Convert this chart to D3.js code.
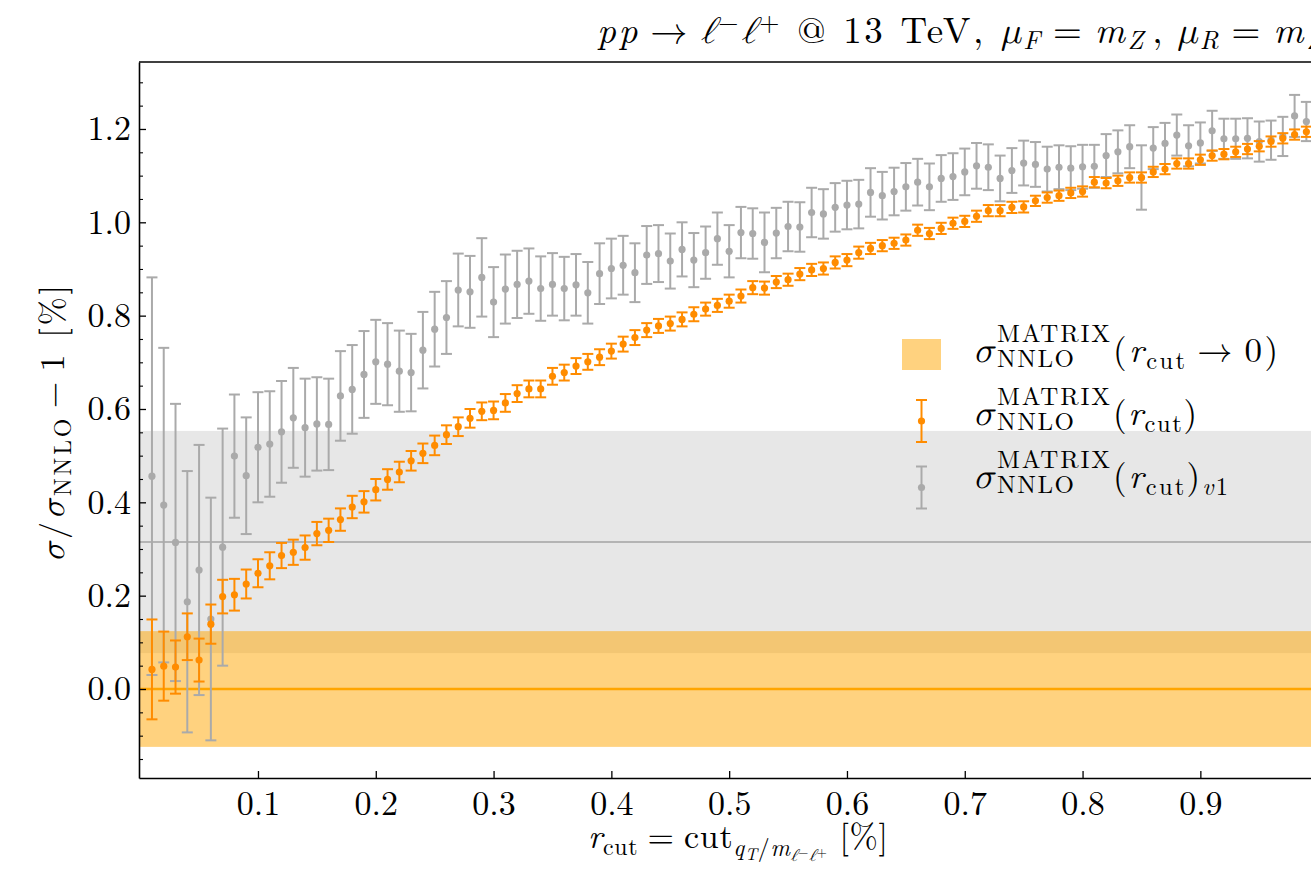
<!DOCTYPE html>
<html>
<head>
<meta charset="utf-8">
<script src="https://cdn.jsdelivr.net/npm/d3@7"></script>
<style>
  body { margin: 0; background: #fff; }
  text { fill: #000; white-space: pre; }
</style>
</head>
<body>
<svg id="chart" width="1311" height="869"></svg>
<script>
// r_cut values [%]
const rcut = [
  0.01,0.02,0.03,0.04,0.05,0.06,0.07,0.08,0.09,0.10,
  0.11,0.12,0.13,0.14,0.15,0.16,0.17,0.18,0.19,0.20,
  0.21,0.22,0.23,0.24,0.25,0.26,0.27,0.28,0.29,0.30,
  0.31,0.32,0.33,0.34,0.35,0.36,0.37,0.38,0.39,0.40,
  0.41,0.42,0.43,0.44,0.45,0.46,0.47,0.48,0.49,0.50,
  0.51,0.52,0.53,0.54,0.55,0.56,0.57,0.58,0.59,0.60,
  0.61,0.62,0.63,0.64,0.65,0.66,0.67,0.68,0.69,0.70,
  0.71,0.72,0.73,0.74,0.75,0.76,0.77,0.78,0.79,0.80,
  0.81,0.82,0.83,0.84,0.85,0.86,0.87,0.88,0.89,0.90,
  0.91,0.92,0.93,0.94,0.95,0.96,0.97,0.98,0.99,1.00
];

// sigma_NNLO^MATRIX(r_cut) relative deviation [%]
const ratioCurrent = [
  0.042,0.049,0.047,0.112,0.062,0.139,0.198,0.202,0.225,0.248,
  0.264,0.286,0.293,0.303,0.333,0.340,0.363,0.390,0.401,0.427,
  0.449,0.465,0.489,0.505,0.522,0.545,0.562,0.580,0.595,0.597,
  0.613,0.633,0.643,0.643,0.670,0.678,0.692,0.701,0.711,0.724,
  0.739,0.753,0.769,0.778,0.783,0.792,0.803,0.814,0.822,0.831,
  0.842,0.860,0.859,0.872,0.877,0.889,0.898,0.901,0.914,0.919,
  0.935,0.944,0.950,0.955,0.962,0.983,0.976,0.987,0.998,1.002,
  1.013,1.025,1.025,1.032,1.033,1.046,1.053,1.057,1.063,1.066,
  1.086,1.084,1.089,1.096,1.096,1.108,1.114,1.126,1.126,1.134,
  1.143,1.146,1.151,1.157,1.163,1.173,1.180,1.188,1.194,1.200
];
const errCurrent = [
  0.107,0.074,0.057,0.050,0.046,0.042,0.036,0.034,0.031,0.030,
  0.029,0.027,0.027,0.026,0.025,0.025,0.024,0.024,0.023,0.023,
  0.022,0.022,0.021,0.021,0.021,0.020,0.020,0.020,0.019,0.019,
  0.019,0.018,0.018,0.018,0.018,0.017,0.017,0.017,0.017,0.016,
  0.016,0.016,0.015,0.015,0.015,0.015,0.015,0.014,0.014,0.014,
  0.014,0.014,0.014,0.013,0.013,0.013,0.013,0.013,0.013,0.013,
  0.013,0.012,0.012,0.012,0.012,0.012,0.012,0.012,0.012,0.012,
  0.012,0.012,0.012,0.012,0.012,0.011,0.011,0.011,0.011,0.011,
  0.011,0.011,0.011,0.011,0.011,0.011,0.011,0.011,0.011,0.011,
  0.011,0.011,0.011,0.011,0.011,0.011,0.011,0.011,0.011,0.011
];

// sigma_NNLO^MATRIX(r_cut)_v1 relative deviation [%]
const ratioV1 = [
  0.456,0.394,0.314,0.187,0.255,0.150,0.304,0.499,0.457,0.518,
  0.525,0.551,0.581,0.560,0.568,0.567,0.628,0.642,0.674,0.701,
  0.696,0.681,0.678,0.726,0.771,0.796,0.855,0.851,0.882,0.829,
  0.857,0.867,0.874,0.858,0.867,0.858,0.866,0.849,0.890,0.901,
  0.908,0.892,0.930,0.933,0.917,0.942,0.919,0.935,0.965,0.938,
  0.978,0.976,0.957,0.977,0.991,0.990,1.021,1.018,1.032,1.037,
  1.039,1.064,1.057,1.066,1.076,1.086,1.076,1.094,1.098,1.108,
  1.121,1.118,1.094,1.111,1.127,1.124,1.114,1.118,1.116,1.119,
  1.120,1.143,1.151,1.162,1.096,1.159,1.169,1.187,1.164,1.170,
  1.196,1.179,1.179,1.180,1.173,1.176,1.184,1.228,1.216,1.225
];
const errV1 = [
  0.426,0.337,0.297,0.280,0.268,0.260,0.254,0.132,0.125,0.118,
  0.113,0.109,0.107,0.105,0.100,0.098,0.096,0.095,0.093,0.090,
  0.088,0.087,0.083,0.082,0.080,0.078,0.078,0.077,0.084,0.075,
  0.074,0.072,0.070,0.069,0.067,0.068,0.066,0.066,0.065,0.064,
  0.063,0.063,0.062,0.061,0.059,0.058,0.058,0.056,0.056,0.056,
  0.055,0.054,0.064,0.054,0.053,0.053,0.053,0.053,0.052,0.052,
  0.052,0.052,0.051,0.051,0.051,0.050,0.050,0.050,0.050,0.050,
  0.049,0.049,0.049,0.048,0.048,0.048,0.048,0.047,0.047,0.047,
  0.046,0.046,0.046,0.046,0.069,0.045,0.044,0.044,0.044,0.044,
  0.043,0.043,0.043,0.043,0.043,0.042,0.042,0.045,0.042,0.042
];

// r_cut -> 0 extrapolations: central value and uncertainty [%]
const extrapCurrent = [0.000, 0.124];
const extrapV1 = [0.315, 0.238];

const xTickValues = [0.1, 0.2, 0.3, 0.4, 0.5, 0.6, 0.7, 0.8, 0.9];
const yTickValues = [0.0, 0.2, 0.4, 0.6, 0.8, 1.0, 1.2];

// choose the first installed face from a list
function pickFont(cands, fallback) {
  const c = document.createElement("canvas").getContext("2d");
  const s = "abcdefghijklmnopqrstuvwxyzABCDEFGHIJKLMNOPQRSTUVWXYZ0123456789";
  const fbs = ["monospace", "sans-serif"];
  const base = fbs.map(f => { c.font = `40px ${f}`; return c.measureText(s).width; });
  for (const f of cands) {
    const ok = fbs.every((fb, i) => { c.font = `40px "${f}", ${fb}`; return Math.abs(c.measureText(s).width - base[i]) > 0.5; });
    if (ok) return `"${f}"`;
  }
  return fallback;
}
const FONT = pickFont(["Latin Modern Roman", "CMU Serif", "Liberation Serif", "DejaVu Serif",
  "Noto Serif", "Tinos", "Times New Roman", "Nimbus Roman", "FreeSerif", "Georgia"], "serif");
const MATHFONT = pickFont(["Latin Modern Math", "CMU Serif", "Liberation Serif", "DejaVu Serif",
  "Noto Serif", "STIX Two Math", "FreeSerif"], FONT) + ", " + FONT;

const svg = d3.select("#chart").style("font-family", FONT);
const W = 1311, H = 869;
const mLeft = 139, mRight = 1337, mTop = 62, mBottom = 778;

svg.append("rect").attr("width", W).attr("height", H).attr("fill", "#fff");

const x = d3.scaleLinear().domain([-0.001, 1.016]).range([mLeft, mRight]);
const y = d3.scaleLinear().domain([-0.1907, 1.3435]).range([mBottom, mTop]);

svg.append("defs").append("clipPath").attr("id", "plotclip")
  .append("rect").attr("x", mLeft).attr("y", mTop).attr("width", mRight - mLeft).attr("height", mBottom - mTop);

const plot = svg.append("g").attr("clip-path", "url(#plotclip)");

// uncertainty bands of the r_cut -> 0 extrapolations
plot.append("rect")
  .attr("x", mLeft).attr("width", mRight - mLeft)
  .attr("y", y(extrapV1[0] + extrapV1[1]))
  .attr("height", y(extrapV1[0] - extrapV1[1]) - y(extrapV1[0] + extrapV1[1]))
  .attr("fill", "rgb(128,128,128)").attr("fill-opacity", 0.19);
plot.append("rect")
  .attr("x", mLeft).attr("width", mRight - mLeft)
  .attr("y", y(extrapCurrent[0] + extrapCurrent[1]))
  .attr("height", y(extrapCurrent[0] - extrapCurrent[1]) - y(extrapCurrent[0] + extrapCurrent[1]))
  .attr("fill", "rgb(255,165,0)").attr("fill-opacity", 0.5);

plot.append("line")
  .attr("x1", mLeft).attr("x2", mRight)
  .attr("y1", y(extrapV1[0])).attr("y2", y(extrapV1[0]))
  .attr("stroke", "#b4b4b4").attr("stroke-width", 2);
plot.append("line")
  .attr("x1", mLeft).attr("x2", mRight)
  .attr("y1", y(extrapCurrent[0])).attr("y2", y(extrapCurrent[0]))
  .attr("stroke", "#ffa500").attr("stroke-width", 2.4);

// error bar series
function errorSeries(vals, errs, color) {
  const data = rcut.map((r, i) => ({ r, v: vals[i], e: errs[i] }));
  const g = plot.append("g");
  const capW = 5.5;
  const items = g.selectAll("g.pt").data(data).join("g").attr("class", "pt");
  items.append("line")
    .attr("x1", d => x(d.r)).attr("x2", d => x(d.r))
    .attr("y1", d => y(d.v - d.e)).attr("y2", d => y(d.v + d.e))
    .attr("stroke", color).attr("stroke-width", 2);
  items.append("line")
    .attr("x1", d => x(d.r) - capW).attr("x2", d => x(d.r) + capW)
    .attr("y1", d => y(d.v + d.e)).attr("y2", d => y(d.v + d.e))
    .attr("stroke", color).attr("stroke-width", 2);
  items.append("line")
    .attr("x1", d => x(d.r) - capW).attr("x2", d => x(d.r) + capW)
    .attr("y1", d => y(d.v - d.e)).attr("y2", d => y(d.v - d.e))
    .attr("stroke", color).attr("stroke-width", 2);
  items.append("circle")
    .attr("cx", d => x(d.r)).attr("cy", d => y(d.v)).attr("r", 3.6)
    .attr("fill", color);
}
errorSeries(ratioV1, errV1, "#aaaaaa");
errorSeries(ratioCurrent, errCurrent, "#ff8c00");

// axes
const xAxis = d3.axisBottom(x).tickValues(xTickValues).tickFormat(d3.format(".1f"))
  .tickSizeInner(-7).tickSizeOuter(0).tickPadding(13);
const gx = svg.append("g").attr("transform", `translate(0,${mBottom})`).call(xAxis);
gx.attr("font-family", null);
gx.selectAll("text").attr("font-size", 34);
gx.selectAll(".tick line").attr("stroke-width", 1.3);
gx.select(".domain").attr("stroke-width", 1.6);

const yAxis = d3.axisLeft(y).tickValues(yTickValues).tickFormat(d3.format(".1f"))
  .tickSizeInner(-7).tickSizeOuter(0).tickPadding(8);
const gy = svg.append("g").attr("transform", `translate(${mLeft},0)`).call(yAxis);
gy.attr("font-family", null);
gy.selectAll("text").attr("font-size", 34);
gy.selectAll(".tick line").attr("stroke-width", 1.3);
gy.select(".domain").attr("stroke-width", 1.6);

const yMinor = d3.range(-0.15, 1.35, 0.05).filter(v => Math.abs(Math.round(v * 5) - v * 5) > 1e-6);
const gym = svg.append("g").attr("transform", `translate(${mLeft},0)`)
  .call(d3.axisLeft(y).tickValues(yMinor).tickFormat("").tickSizeInner(-4).tickSizeOuter(0));
gym.select(".domain").remove();
gym.selectAll(".tick line").attr("stroke-width", 1.1);

svg.append("line").attr("x1", mLeft).attr("x2", mRight).attr("y1", mTop).attr("y2", mTop)
  .attr("stroke", "#000").attr("stroke-width", 1.6);

// rich text helper: parts with italic (i), math face (m), relative size (s),
// baseline shift (sh) and leading gap (dx), all in em of the base size
function rich(parent, px, py, size, parts, anchor, len) {
  const t = parent.append("text").attr("x", px).attr("y", py)
    .attr("font-size", size).attr("text-anchor", anchor || "start");
  let cur = 0;
  parts.forEach(p => {
    const sh = (p.sh || 0) * size;
    const s = t.append("tspan").attr("dy", sh - cur).text(p.t);
    cur = sh;
    if (p.dx) s.attr("dx", p.dx * size);
    if (p.i) s.attr("font-style", "italic");
    if (p.m) s.style("font-family", MATHFONT);
    if (p.s) s.attr("font-size", p.s * size);
  });
  if (len) t.attr("textLength", len).attr("lengthAdjust", "spacing");
  return t;
}
const TH = 0.2778, TN = 0.1667;

// title
const title = rich(svg, 597, 43, 37, [
  { t: "pp", i: 1 }, { t: "\u2192", dx: TH, m: 1 },
  { t: "\u2113", dx: TH, m: 1, i: 1 }, { t: "\u2212", s: 0.7, sh: -0.33 },
  { t: "\u2113", m: 1, i: 1 }, { t: "+", s: 0.7, sh: -0.33 },
  { t: " @ 13 TeV, " },
  { t: "\u03bc", m: 1, i: 1 }, { t: "F", i: 1, s: 0.7, sh: 0.15 },
  { t: "=", dx: TH }, { t: "m", i: 1, dx: TH }, { t: "Z", i: 1, s: 0.7, sh: 0.15 },
  { t: ",", dx: TN }, { t: "\u03bc", m: 1, i: 1, dx: TH * 1.2 }, { t: "R", i: 1, s: 0.7, sh: 0.15 },
  { t: "=", dx: TH }, { t: "m", i: 1, dx: TH }, { t: "Z", i: 1, s: 0.7, sh: 0.15 }
]);
const titleTarget = 1322 - 597;
if (title.node().getComputedTextLength() < titleTarget) {
  title.attr("textLength", titleTarget).attr("lengthAdjust", "spacing");
}

// x axis label
rich(svg, 588, 848, 34, [
  { t: "r", i: 1 }, { t: "cut", s: 0.7, sh: 0.2 }, { t: "=", dx: TH }, { t: "cut", dx: TH },
  { t: "q", i: 1, s: 0.7, sh: 0.24 }, { t: "T", i: 1, s: 0.5, sh: 0.35 }, { t: "/", s: 0.7, sh: 0.24 },
  { t: "m", i: 1, s: 0.7, sh: 0.24 }, { t: "\u2113", m: 1, i: 1, s: 0.5, sh: 0.38 }, { t: "\u2212", s: 0.38, sh: 0.27 },
  { t: "\u2113", m: 1, i: 1, s: 0.5, sh: 0.38 }, { t: "+", s: 0.38, sh: 0.27 }, { t: " [%]" }
], "start", 300);

// y axis label
const ylab = svg.append("g").attr("transform", "translate(64,562) rotate(-90)");
rich(ylab, 0, 0, 34, [
  { t: "\u03c3", m: 1, i: 1 }, { t: "/" }, { t: "\u03c3", m: 1, i: 1 }, { t: "NNLO", s: 0.7, sh: 0.2 },
  { t: "\u2212", dx: 0.222 }, { t: "1", dx: 0.222 }, { t: " [%]" }
], "start", 277);

// legend
const leg = svg.append("g");
leg.append("rect").attr("x", 902).attr("y", 339).attr("width", 39).attr("height", 31)
  .attr("fill", "rgb(255,165,0)").attr("fill-opacity", 0.5);

function legendBar(cx, cy, color) {
  const h = 21, cw = 5.5;
  leg.append("line").attr("x1", cx).attr("x2", cx).attr("y1", cy - h).attr("y2", cy + h)
    .attr("stroke", color).attr("stroke-width", 2);
  [cy - h, cy + h].forEach(yy => leg.append("line").attr("x1", cx - cw).attr("x2", cx + cw)
    .attr("y1", yy).attr("y2", yy).attr("stroke", color).attr("stroke-width", 2));
  leg.append("circle").attr("cx", cx).attr("cy", cy).attr("r", 3.6).attr("fill", color);
}
legendBar(921.5, 421, "#ff8c00");
legendBar(921.5, 487.5, "#aaaaaa");

function sigmaMatrix(py, tail, tailLen) {
  leg.append("text").attr("x", 973).attr("y", py).attr("font-size", 36)
    .attr("font-style", "italic").style("font-family", MATHFONT).text("\u03c3");
  leg.append("text").attr("x", 997).attr("y", py - 20).attr("font-size", 25)
    .attr("textLength", 113).attr("lengthAdjust", "spacing").text("MATRIX");
  leg.append("text").attr("x", 997).attr("y", py + 5).attr("font-size", 25)
    .attr("textLength", 77).attr("lengthAdjust", "spacing").text("NNLO");
  rich(leg, 1113, py, 35, tail, "start", tailLen);
}
sigmaMatrix(362, [
  { t: "(" }, { t: "r", i: 1 }, { t: "cut", s: 0.7, sh: 0.2 }, { t: "\u2192", dx: TH, m: 1 }, { t: "0)", dx: TH }
], 165);
sigmaMatrix(425, [
  { t: "(" }, { t: "r", i: 1 }, { t: "cut", s: 0.7, sh: 0.2 }, { t: ")" }
], 84);
sigmaMatrix(488, [
  { t: "(" }, { t: "r", i: 1 }, { t: "cut", s: 0.7, sh: 0.2 }, { t: ")" },
  { t: "v", i: 1, s: 0.7, sh: 0.2 }, { t: "1", s: 0.7, sh: 0.2 }
], 115);
</script>
</body>
</html>
